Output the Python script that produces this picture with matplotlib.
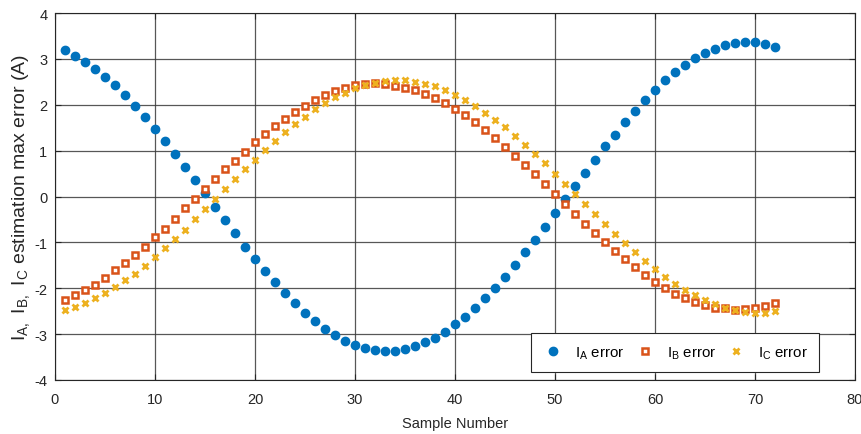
import matplotlib
matplotlib.use("Agg")
import matplotlib.pyplot as plt
import numpy as np

plt.rcParams['font.family'] = ['Liberation Sans', 'DejaVu Sans']
plt.rcParams['mathtext.default'] = 'regular'
plt.rcParams['axes.unicode_minus'] = False

samples = list(range(1, 73))

ia_error = [3.19, 3.07, 2.94, 2.79, 2.61, 2.42, 2.21, 1.98, 1.74, 1.48,
            1.21, 0.93, 0.65, 0.36, 0.07, -0.22, -0.52, -0.80, -1.09, -1.36,
            -1.62, -1.87, -2.10, -2.33, -2.54, -2.72, -2.88, -3.02, -3.15, -3.23,
            -3.30, -3.35, -3.37, -3.36, -3.33, -3.26, -3.18, -3.08, -2.95, -2.79,
            -2.62, -2.43, -2.22, -1.99, -1.75, -1.49, -1.22, -0.94, -0.66, -0.37,
            -0.06, 0.22, 0.52, 0.80, 1.09, 1.35, 1.62, 1.87, 2.11, 2.33,
            2.53, 2.71, 2.87, 3.01, 3.13, 3.22, 3.30, 3.34, 3.36, 3.36,
            3.32, 3.25]

ib_error = [-2.25, -2.15, -2.04, -1.92, -1.77, -1.61, -1.45, -1.28, -1.10, -0.89,
            -0.70, -0.48, -0.26, -0.06, 0.16, 0.38, 0.59, 0.78, 0.98, 1.18,
            1.36, 1.53, 1.70, 1.85, 1.98, 2.11, 2.21, 2.31, 2.37, 2.43,
            2.45, 2.47, 2.45, 2.41, 2.37, 2.32, 2.24, 2.15, 2.04, 1.91,
            1.77, 1.62, 1.45, 1.27, 1.08, 0.89, 0.68, 0.48, 0.27, 0.05,
            -0.17, -0.38, -0.59, -0.79, -0.99, -1.18, -1.36, -1.54, -1.72, -1.86,
            -1.99, -2.12, -2.21, -2.30, -2.37, -2.42, -2.44, -2.47, -2.46, -2.42,
            -2.38, -2.33]

ic_error = [-2.47, -2.40, -2.32, -2.22, -2.11, -1.97, -1.83, -1.68, -1.51, -1.31,
            -1.13, -0.92, -0.72, -0.50, -0.28, -0.06, 0.16, 0.38, 0.59, 0.80,
            1.01, 1.21, 1.40, 1.58, 1.74, 1.90, 2.03, 2.16, 2.25, 2.36,
            2.43, 2.48, 2.52, 2.53, 2.53, 2.50, 2.46, 2.40, 2.32, 2.22,
            2.11, 1.97, 1.82, 1.66, 1.51, 1.32, 1.13, 0.93, 0.72, 0.50,
            0.27, 0.05, -0.17, -0.38, -0.60, -0.81, -1.02, -1.21, -1.40, -1.58,
            -1.75, -1.90, -2.03, -2.15, -2.25, -2.35, -2.42, -2.48, -2.51, -2.54,
            -2.53, -2.50]

x_ticks = [0, 10, 20, 30, 40, 50, 60, 70, 80]
y_ticks = [-4, -3, -2, -1, 0, 1, 2, 3, 4]

fig = plt.figure(figsize=(8.62, 4.35), dpi=100)
ax = fig.add_axes([55/862, 1-381/435, 800/862, 367/435])

ax.plot(samples, ia_error, linestyle='none', marker='o', markersize=6,
        color='#0072BD', markeredgecolor='#0072BD', label=r'$I_A$ error')
ax.plot(samples, ib_error, linestyle='none', marker='s', markersize=4.3,
        markerfacecolor='white', markeredgecolor='#D95319', markeredgewidth=1.8,
        label=r'$I_B$ error')
ax.plot(samples, ic_error, linestyle='none', marker='x', markersize=4.2,
        color='#EDB120', markeredgewidth=2.0, label=r'$I_C$ error')

ax.set_xlim(0, 80)
ax.set_ylim(-4, 4)
ax.set_xticks(x_ticks)
ax.set_yticks(y_ticks)
ax.grid(True, color='#3a3a3a', linewidth=0.9, alpha=0.85)
ax.set_axisbelow(True)
ax.tick_params(direction='in', top=True, right=True, labelsize=10.5,
               colors='#262626', length=4)
ax.tick_params(axis='x', pad=8.5)
ax.tick_params(axis='y', pad=5.5)
for s in ax.spines.values():
    s.set_color('#262626')
    s.set_linewidth(0.8)

ax.set_xlabel('Sample Number', fontsize=10.5, color='#262626', labelpad=7.5)
ax.set_ylabel(r'$I_{A,}\ I_{B,}\ I_C$ estimation max error (A)', fontsize=14,
              color='#262626')
ax.yaxis.set_label_coords(-0.029, 0.5)

leg = ax.legend(loc='lower right', bbox_to_anchor=(0.955, 0.022), ncol=3,
                fontsize=10.8, frameon=True, fancybox=False, edgecolor='#262626',
                framealpha=1, handletextpad=0.7, columnspacing=0.6,
                borderpad=0.75, handlelength=1.5, borderaxespad=0)
leg.get_frame().set_linewidth(0.8)

fig.savefig('out.png', dpi=100)
